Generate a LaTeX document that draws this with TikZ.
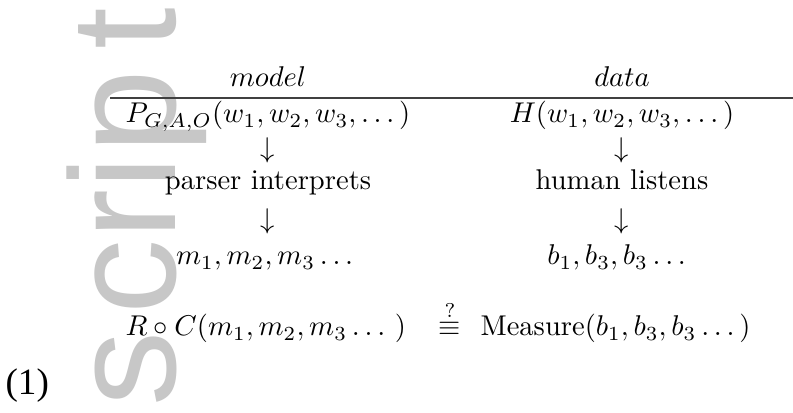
\documentclass[tikz,border=0pt]{standalone}
\usepackage{amsmath}
\usepackage{fontspec}
\newfontfamily\wmfont{Liberation Sans}
\newfontfamily\numfont{Liberation Serif}
\begin{document}
\begin{tikzpicture}[x=0.35pt,y=-0.35pt,
  lbl/.style={inner sep=0pt,anchor=base},
  lblw/.style={inner sep=0pt,anchor=base west},
  rulestyle/.style={draw=black!75,line width=0.5pt},
  wm/.style={inner sep=0pt,anchor=base west,rotate=90,text=black!22,
    font=\wmfont\fontsize{52.5}{60}\selectfont}]
\useasboundingbox[fill=white] (0,0) rectangle (793,413);
% watermark
\node[wm] (wmark) at (175,407) {s\kern6pt cri\kern1pt p\kern7pt t};
% header
\node[lbl] (model) at (268,87) {$model$};
\node[lbl] (data) at (622,87) {$data$};
\coordinate (ruleL) at (110,98);
\coordinate (ruleR) at (793,98);
\draw[rulestyle] (ruleL) -- (ruleR);
% first row
\node[lbl] (P) at (268,123) {$P_{G,A,O}(w_1,w_2,w_3,\dots)$};
\node[lbl] (H) at (622,123) {$H(w_1,w_2,w_3,\dots)$};
\node[lbl] (a1) at (268,158) {$\downarrow$};
\node[lbl] (a2) at (622,158) {$\downarrow$};
\node[lbl] (parser) at (268,190) {parser interprets};
\node[lbl] (human) at (622,190) {human listens};
\node[lbl] (a3) at (268,229) {$\downarrow$};
\node[lbl] (a4) at (622,229) {$\downarrow$};
\node[lbl] (m) at (267,265) {$m_1,m_2,m_3\dots$};
\node[lbl] (b) at (619,265) {$b_1,b_3,b_3\dots$};
% bottom row
\node[lblw] (RC) at (125,336) {$R\circ C(m_1,m_2,m_3\dots\ )$};
\node[lbl] (eq) at (450,336) {$\stackrel{?}{\equiv}$};
\node[lblw] (meas) at (480,336) {$\text{Measure}(b_1,b_3,b_3\dots)$};
% equation number
\node[lblw,font=\numfont\fontsize{13}{15}\selectfont] (num) at (5,395) {(1)};
\end{tikzpicture}
\end{document}
